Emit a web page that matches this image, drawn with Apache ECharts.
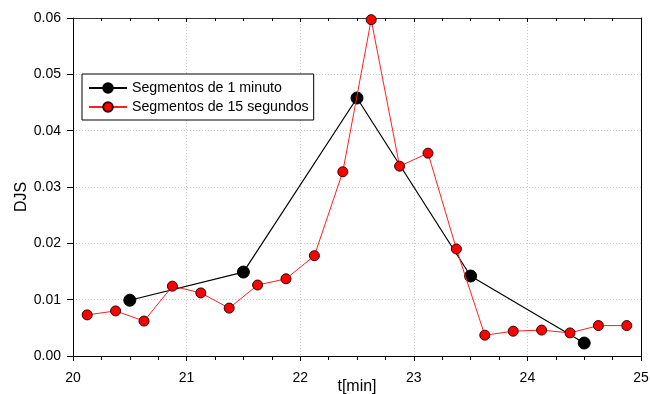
<!DOCTYPE html>
<html><head><meta charset="utf-8">
<script src="https://cdn.jsdelivr.net/npm/echarts@6/dist/echarts.min.js"></script>
<style>html,body{margin:0;padding:0;background:#fff}#c{width:650px;height:394px}</style>
</head><body><div id="c"></div>
<script>
var minuteX = [20.5, 21.5, 22.5, 23.5, 24.5];
var minuteY = [0.0099, 0.0149, 0.0458, 0.0142, 0.0023];
var secX = [20.125, 20.375, 20.625, 20.875, 21.125, 21.375, 21.625, 21.875, 22.125, 22.375,
            22.625, 22.875, 23.125, 23.375, 23.625, 23.875, 24.125, 24.375, 24.625, 24.875];
var secY = [0.0073, 0.0080, 0.0062, 0.0124, 0.0112, 0.0085, 0.0126, 0.0137, 0.0178, 0.0327,
            0.0597, 0.0337, 0.0360, 0.0190, 0.0037, 0.0044, 0.0046, 0.0041, 0.0054, 0.0054];
var seriesNames = ['Segmentos de 1 minuto', 'Segmentos de 15 segundos'];

function pairs(xs, ys){ return xs.map(function(x,i){ return [x, ys[i]]; }); }

var font = 'Liberation Sans, Arial, sans-serif';
var chart = echarts.init(document.getElementById('c'));
chart.setOption({
  animation: false,
  backgroundColor: '#fff',
  grid: {left: 73, right: 9, top: 18, bottom: 38, containLabel: false, outerBoundsMode: 'none'},
  legend: {
    orient: 'vertical', left: 82, top: 74,
    data: seriesNames,
    backgroundColor: '#fff', borderColor: '#000', borderWidth: 1,
    padding: [7, 5, 6, 6], itemGap: 5, itemWidth: 38, itemHeight: 12,
    textStyle: {fontFamily: font, fontSize: 14.2, color: '#000'}
  },
  xAxis: [{
    type: 'value', min: 20, max: 25, interval: 1,
    name: 't[min]', nameLocation: 'middle', nameGap: 23, nameMoveOverlap: false,
    nameTextStyle: {fontFamily: font, fontSize: 16, color: '#000'},
    axisLine: {show: true, onZero: false, lineStyle: {color: '#000', width: 1}},
    axisTick: {show: true, length: 5, lineStyle: {color: '#000'}},
    minorTick: {show: true, splitNumber: 4, length: 4, lineStyle: {color: '#000'}},
    axisLabel: {fontFamily: font, fontSize: 14, color: '#000', margin: 15},
    splitLine: {show: true, lineStyle: {color: '#c8c8c8', type: [1, 2]}}
  }, {
    type: 'value', min: 20, max: 25, interval: 1, position: 'top',
    axisLine: {show: true, onZero: false, lineStyle: {color: '#333', width: 1}},
    axisTick: {show: true, inside: true, length: 4, lineStyle: {color: '#000'}},
    minorTick: {show: true, splitNumber: 4, length: 3, lineStyle: {color: '#000'}},
    axisLabel: {show: false}, splitLine: {show: false}
  }],
  yAxis: [{
    type: 'value', min: 0, max: 0.06, interval: 0.01,
    name: 'DJS', nameLocation: 'middle', nameGap: 43, nameMoveOverlap: false,
    nameTextStyle: {fontFamily: font, fontSize: 16, color: '#000', padding: [0, 0, 0, -20]},
    axisLine: {show: true, onZero: false, lineStyle: {color: '#000', width: 1}},
    axisTick: {show: true, length: 6, lineStyle: {color: '#000'}},
    axisLabel: {fontFamily: font, fontSize: 14, color: '#000', margin: 12,
      formatter: function(v){ return v.toFixed(2); }},
    splitLine: {show: true, lineStyle: {color: '#c8c8c8', type: [1, 2]}}
  }, {
    type: 'value', min: 0, max: 0.06, interval: 0.01, position: 'right',
    axisLine: {show: true, onZero: false, lineStyle: {color: '#000', width: 1}},
    axisTick: {show: false}, axisLabel: {show: false}, splitLine: {show: false}
  }],
  series: [{
    name: seriesNames[0], type: 'line', data: pairs(minuteX, minuteY),
    symbol: 'circle', symbolSize: 12, z: 3,
    lineStyle: {color: '#000', width: 1.2},
    itemStyle: {color: '#000', borderColor: '#000', borderWidth: 1}
  }, {
    name: seriesNames[1], type: 'line', data: pairs(secX, secY),
    symbol: 'circle', symbolSize: 10, z: 4,
    lineStyle: {color: '#ff2020', width: 1},
    itemStyle: {color: '#ff0000', borderColor: '#300', borderWidth: 1}
  }]
});
</script></body></html>
